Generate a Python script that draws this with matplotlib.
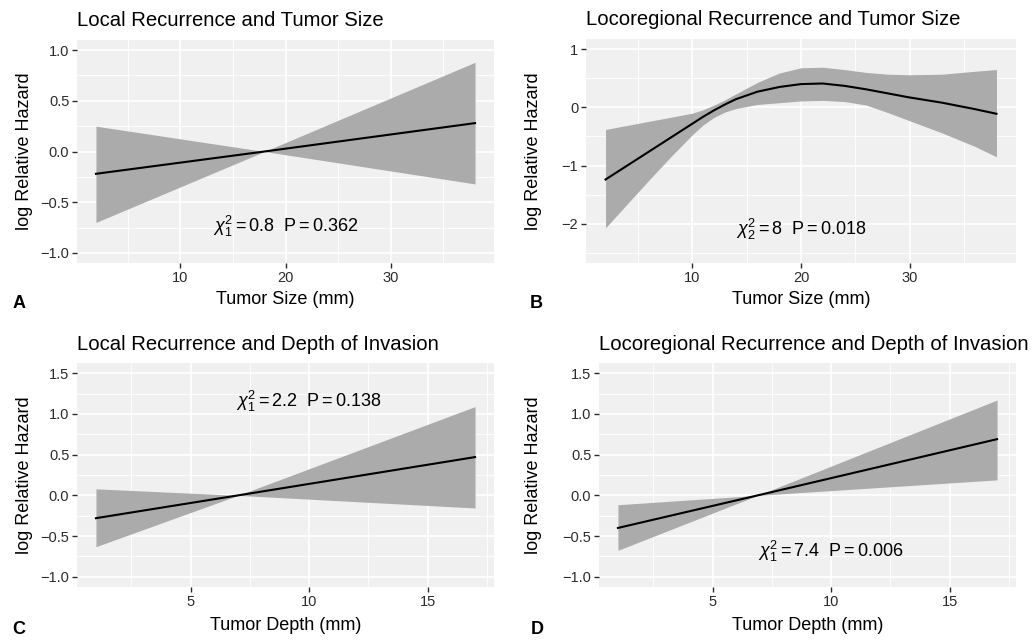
import numpy as np
import matplotlib
matplotlib.use('Agg')
from matplotlib import pyplot as plt
from matplotlib.ticker import MultipleLocator

plt.rcParams['font.family'] = ['Liberation Sans', 'DejaVu Sans']
plt.rcParams['mathtext.fontset'] = 'custom'
plt.rcParams['mathtext.rm'] = 'Liberation Sans'
plt.rcParams['mathtext.it'] = 'Liberation Sans:italic'

# A: local recurrence vs tumor size (linear)
a_x = [2, 18, 38]
a_fit = [-0.22, 0.0, 0.28]
a_lo = [-0.70, 0.0, -0.32]
a_hi = [0.25, 0.0, 0.88]

# B: locoregional recurrence vs tumor size (spline)
b_x = [2, 4, 6, 8, 10, 11, 12, 13, 14, 16, 18, 20, 22, 24, 26, 28, 30, 33, 36, 38]
b_fit = [-1.24, -1.00, -0.76, -0.52, -0.28, -0.16, -0.05, 0.05, 0.14, 0.27,
         0.35, 0.40, 0.41, 0.37, 0.31, 0.24, 0.17, 0.08, -0.03, -0.11]
b_lo = [-2.07, -1.66, -1.25, -0.85, -0.47, -0.30, -0.17, -0.08, -0.02, 0.05,
        0.08, 0.11, 0.12, 0.10, 0.04, -0.09, -0.23, -0.44, -0.67, -0.85]
b_hi = [-0.38, -0.31, -0.24, -0.17, -0.10, -0.04, 0.04, 0.13, 0.23, 0.43,
        0.59, 0.68, 0.69, 0.65, 0.60, 0.57, 0.56, 0.57, 0.62, 0.65]

# C: local recurrence vs depth
c_x = [1, 7, 17]
c_fit = [-0.28, 0.0, 0.47]
c_lo = [-0.63, 0.0, -0.155]
c_hi = [0.08, 0.0, 1.09]

# D: locoregional recurrence vs depth
d_x = [1, 6.9, 17]
d_fit = [-0.40, 0.0, 0.69]
d_lo = [-0.675, 0.0, 0.19]
d_hi = [-0.115, 0.0, 1.17]

M = '\u2212'
ylabs_1 = [M + '1.0', M + '0.5', '0.0', '0.5', '1.0']
ylabs_2 = [M + '2', M + '1', '0', '1']
ylabs_3 = [M + '1.0', M + '0.5', '0.0', '0.5', '1.0', '1.5']

W, H = 1036, 643
fig = plt.figure(figsize=(W/100, H/100), dpi=100)

def px_axes(l, t, r, b):
    return fig.add_axes([l/W, 1-b/H, (r-l)/W, (b-t)/H])

panels = [
    dict(box=(77, 40, 494, 263), x=a_x, fit=a_fit, lo=a_lo, hi=a_hi,
         title='Local Recurrence and Tumor Size', xlab='Tumor Size (mm)',
         ylim=(-1, 1), yt=[-1, -0.5, 0, 0.5, 1.0], ylabs=ylabs_1,
         xlim=(2, 38), xt=[10, 20, 30], xminor=5, yminor=0.25,
         note=r'$\chi^2_1 = 0.8\ \ \mathrm{P} = 0.362$', npos=(20, -0.74),
         letter='A', lpos=(19, 303), ylx=25, xly=300, tb=26),
    dict(box=(586, 39, 1016, 263), x=b_x, fit=b_fit, lo=b_lo, hi=b_hi,
         title='Locoregional Recurrence and Tumor Size', xlab='Tumor Size (mm)',
         ylim=(-2.5, 1), yt=[-2, -1, 0, 1], ylabs=ylabs_2,
         xlim=(2, 38), xt=[10, 20, 30], xminor=5, yminor=0.5,
         note=r'$\chi^2_2 = 8\ \ \mathrm{P} = 0.018$', npos=(20, -2.1),
         letter='B', lpos=(536, 303), ylx=533, xly=300, tb=25),
    dict(box=(77, 363, 494, 587), x=c_x, fit=c_fit, lo=c_lo, hi=c_hi,
         title='Local Recurrence and Depth of Invasion', xlab='Tumor Depth (mm)',
         ylim=(-1, 1.5), yt=[-1, -0.5, 0, 0.5, 1.0, 1.5], ylabs=ylabs_3,
         xlim=(1, 17), xt=[5, 10, 15], xminor=2.5, yminor=0.25,
         note=r'$\chi^2_1 = 2.2\ \ \mathrm{P} = 0.138$', npos=(10, 1.15),
         letter='C', lpos=(19, 629), ylx=25, xly=625, tb=350),
    dict(box=(599, 363, 1016, 587), x=d_x, fit=d_fit, lo=d_lo, hi=d_hi,
         title='Locoregional Recurrence and Depth of Invasion', xlab='Tumor Depth (mm)',
         ylim=(-1, 1.5), yt=[-1, -0.5, 0, 0.5, 1.0, 1.5], ylabs=ylabs_3,
         xlim=(1, 17), xt=[5, 10, 15], xminor=2.5, yminor=0.25,
         note=r'$\chi^2_1 = 7.4\ \ \mathrm{P} = 0.006$', npos=(10, -0.69),
         letter='D', lpos=(537, 629), ylx=533, xly=625, tb=350),
]

for p in panels:
    l, t, r, b = p['box']
    ax = px_axes(l, t, r, b)
    ax.set_facecolor('#F0F0F0')
    for s in ax.spines.values():
        s.set_visible(False)
    ax.fill_between(p['x'], p['lo'], p['hi'], color='#ABABAB', lw=0, zorder=2)
    ax.plot(p['x'], p['fit'], color='black', lw=1.5, zorder=3)

    x0, x1 = p['xlim']
    dx = 0.05*(x1-x0)
    ax.set_xlim(x0-dx, x1+dx)
    y0, y1 = p['ylim']
    dy = 0.05*(y1-y0)
    ax.set_ylim(y0-dy, y1+dy)

    ax.set_xticks(p['xt'])
    ax.set_yticks(p['yt'])
    ax.set_yticklabels(p['ylabs'])
    ax.xaxis.set_minor_locator(MultipleLocator(p['xminor']))
    ax.yaxis.set_minor_locator(MultipleLocator(p['yminor']))
    ax.grid(which='major', color='white', lw=1.2, zorder=1)
    ax.grid(which='minor', color='white', lw=0.6, zorder=1)
    ax.set_axisbelow(True)
    ax.tick_params(which='major', length=3.5, width=1.0, color='#2b2b2b',
                   labelsize=10.5, labelcolor='#2b2b2b', pad=2)
    ax.tick_params(which='minor', length=0)

    ax.text(0, 1 + (t - p['tb'])/(b-t), p['title'], transform=ax.transAxes,
            fontsize=14.6, ha='left', va='baseline')

    ax.set_xlabel(p['xlab'], fontsize=13, va='center')
    ax.xaxis.set_label_coords(0.5, (b-p['xly'])/(b-t))
    ax.set_ylabel('log Relative Hazard', fontsize=13, va='center')
    ax.yaxis.set_label_coords((p['ylx']-l)/(r-l), 0.5)

    ax.text(p['npos'][0], p['npos'][1], p['note'], fontsize=13,
            ha='center', va='center', zorder=4)

    fig.text(p['lpos'][0]/W, 1-p['lpos'][1]/H, p['letter'], fontsize=13,
             fontweight='bold', ha='center', va='center')

fig.savefig('out.png', dpi=100)
